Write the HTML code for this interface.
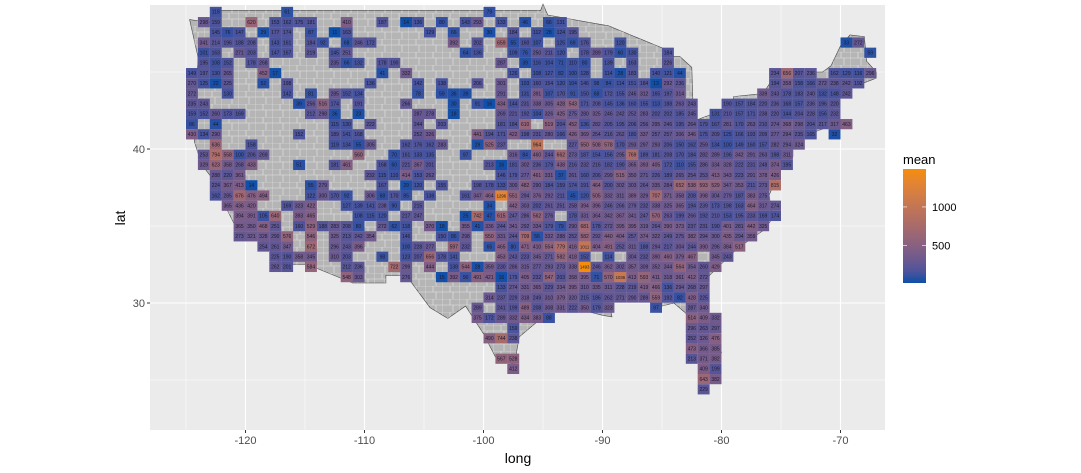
<!DOCTYPE html>
<html><head><meta charset="utf-8"><style>
html,body{margin:0;padding:0;background:#fff;}
svg{display:block;font-family:"Liberation Sans",sans-serif;}
</style></head><body>
<svg id="chart" width="1081" height="473" viewBox="0 0 1081 473" xmlns="http://www.w3.org/2000/svg">
<defs>
<pattern id="county" patternUnits="userSpaceOnUse" width="17" height="13">
<path d="M0 0 H17 M0 0 V13 M8 0 V6 M0 6 H8 M11 6 V13 M8 6 H17" stroke="#e6e6e6" stroke-width="0.6" fill="none"/>
</pattern>
</defs>
<rect x="150" y="5" width="735" height="425" fill="#ebebeb"/>
<g id="grid"></g>
<g id="map"></g>
<g id="cells"></g>
<g id="axes"></g>
<text x="518" y="463" font-size="14" text-anchor="middle" fill="#000">long</text>
<text transform="translate(125,218) rotate(-90)" font-size="14" text-anchor="middle" fill="#000">lat</text>
<g id="legend">
<text x="903" y="164" font-size="13" fill="#000">mean</text>
</g>
</svg>
<script>
const xTicks = [-120, -110, -100, -90, -80, -70];
const yTicks = [30, 40];
const legendTicks = [500, 1000];
const rowValues = [
"2:118|8:61|25:79",
"1:298 159|5:620|7:153 162 175 181|13:410|16:187|18:14 136|21:80|23:143 293|26:133|28:46|30:66 131",
"2:145 76 147|6:29 177 174|10:87|12:11 163|20:129|22:66|25:30|27:184|29:112 28 124 195",
"1:341 214 196 188 208|7:143 161|10:184 92|13:68 246 172|22:392|24:202|26:659 55 160 107|31:125 69 176|36:120|55:33 272",
"1:101 163|4:271 203|7:147 167|10:219|12:145 251|23:64 136|27:109 76 250 211 120|33:178 289 179 60 130|40:184|57:59",
"1:195 108 152|5:178 268|12:235 66 132|16:178 190|26:287|28:39 116 104 71 110 80|35:139|37:163|40:226",
"0:149 197 130 265|6:452 17|16:41|18:332|27:126|29:108 127 82 100 128|35:114 28 183|39:140 121 44|49:234 656 207 236|54:162 129 116 296",
"0:270 125 22 225|6:52|8:198|15:136|19:142|21:138|24:206|26:301|28:103 160 154 120 104 146 98 84 114 151 184 13 292 236|49:194 358 158 166 272 238 242 192",
"0:272|3:130|8:142|10:81|12:285 152 134|19:78|21:59 36 39|26:291|28:131 391 107 170 91 150 68 172 155 246 312 165 197 314|48:339 243 178 183 240 132 148 242",
"0:235 243|9:39 256 516 174|14:191|18:266|22:30|24:91 16 434 144 231 338 305 428 543 171 208 145 136 160 155 113 188 263 243|45:190 157 184 220 236 168 157 236 196 220",
"0:159 152 260 173 169|10:212 298 36|14:23|19:287 278|22:18|26:269 221 192 104 326 425 275 280 325 246 242 252 283 202 202 185 245|44:131 210 157 171 238 220 144 204 228 156 232",
"0:86|2:44|12:115 130|15:222|19:244|21:203|26:181 184 610 _ 519 204 452 136 282 205 195 206 256 295 246 195 264 179 167 281 170 263 210 274 368 298 204 217 317 463",
"0:430 134 290|9:152|12:189 141 168|19:252 326|24:441 194 171 422 198 231 280 166 426 369 254 216 262 180 337 257 257 306 346 175 209 125 166 193 209 277 294 235 165|54:32",
"2:636|5:158|12:119 134 55 305|18:162 176 162 283|24:29 525 237|29:964|32:227 550 508 578 170 293 297 293 206 150 162 259 134 100 149 160 157 282 294 324",
"1:253 794 558 100 206 269|14:560|17:70 161 133 135|23:97|27:316 84 460 244 662 273 187 154 156 295 769 189 181 208 170 184 282 289 196 342 291 263 198 311",
"1:329 623 358 268 433|9:51|12:181 461|16:168 60 221 367 201|25:213 16 181 302 236 179 438 216 232 216 182 190 365 393 405 172 110 155 286 334 328 222 231 248 374 195",
"2:288 220 361|15:232 115 110 414 153 262|26:146 179 277 461 331 37 261 160 206 299 515 350 271 226 189 265 254 253 413 343 223 291 378 426",
"2:224 367 413 14|10:55 279|16:167|18:29 120|21:155|24:198 178 133 300 482 290 184 159 174 191 464 200 302 303 264 335 284 652 538 593 529 347 353 211 273 815",
"2:162 285 676 476 494|10:122 300 170 92|15:306 68 170 85|20:138|23:161 347 464 1296 551 294 376 292 211 45 120 505 332 311 389 329 707 371 358 208 398 304 279 187 383 275",
"3:365 436 420|8:169 323 422|13:127 139 141 238 90|19:215|25:34|27:442 303 202 261 251 258 394 396 246 266 279 232 338 325 365 194 239 173 198 163 464 317 274",
"4:394 391 105 640|9:393 465|14:108 115 120|18:217 247|23:25 742 47 615 247 286 562 276 _ 178 331 364 342 367 341 247 570 263 199 266 192 210 153 195 233 169 174",
"4:365 350 468 251|9:160 529 188 283 208 80|16:272 62 118|20:370 18|23:355 41 336 244 341 292 334 179 79 290 681 178 272 395 395 319 264 390 373 237 231 190 401 281 442 325",
"4:273 321 328 290 576|10:546|12:325 213 242 354|18:146|21:150 86 298|25:550 331 244 709 56 332 288 252 582 292 440 404 257 374 322 249 275 382 294 300 435 294 359",
"6:254 261 347|10:672|12:296 243 396|18:100 228 277|22:597 232|25:65 465 80 471 410 554 779 416 1011 404 491 252 311 188 294 217 304 244 390 296 384 517",
"7:225 190 358 345|12:310 203|16:98|18:123 207 656 178 141|26:453 243 223 345 271 582 418 152 _ 114 _ 304 232 390 460 379 467 _ 345 243",
"7:262 201|10:584|13:212 236|17:722 299|20:444|22:138 544 28 359 230 286 315 277 293 273 338 1493 246 362 302 357 309 352 344 564 354 260 429",
"13:548 303|18:276|21:15 392 90 491 421 16 179 405 232 547 203 358 395 71 570 1036 413 593 411 318 361 412 272",
"26:133 274 331 365 229 334 395 310 335 311 228 219 419 466 136 294 268 297",
"25:314 237 229 318 249 310 379 320 215 186 262 271 290 289 559 192 82 428 225",
"24:289 _ 241 199 489 208 308 331 222 350 179 323|39:97|42:287 340",
"24:375 172 289 332 434 383 88|42:514 409 332",
"27:159|42:296 263 297",
"25:490 744 238|42:252 326 476",
"42:473 366 385",
"26:567 528|42:213 371 382",
"27:412|43:409 199",
"43:643 382",
"43:229"
];
const outlineLon = [-124.7,-123,-122.8,-95.2,-95,-94.6,-91,-89.5,-84.8,-84.4,-83.5,-82.5,-82.4,-83,-82.7,-79,-79,-76.5,-76,-75,-71.5,-70.8,-70,-69.2,-68,-67.8,-67,-67,-70,-70.7,-70,-71.5,-74,-74,-75,-75.5,-76,-75.7,-76.5,-78,-79,-81,-81.5,-81,-80,-80.4,-81.2,-81.8,-82.7,-82.8,-84,-85.5,-86.5,-88,-89.5,-89.2,-90,-91.5,-93.8,-95,-97,-97.4,-99,-100,-101.5,-103,-104.5,-106.5,-108.2,-108.2,-111,-114.8,-117.1,-118.5,-120.6,-121.9,-122.5,-123.7,-124.3,-124.2,-124];
const outlineLat = [48.4,48.2,49,49,49.4,48.7,48.2,48,46.5,46,46,45.3,43,42,41.7,42.8,43.4,43.6,44.2,45,45,45.4,46.7,47.4,47.3,45.7,45,44.6,43.7,42.7,41.7,41.3,40.6,39.5,38.8,37.9,37,35.5,34.7,33.9,33.3,31.8,30.5,29,26.8,25.2,25.2,26.5,28,29.2,30,29.7,30.4,30.4,30.2,29.1,29.2,29.5,29.7,29.1,27.8,26,26.5,28,29.8,29,29.7,31.8,31.8,31.3,31.3,32.5,32.5,34,34.6,36.6,37.8,39,40.5,42,46];

const NS='http://www.w3.org/2000/svg';
const X0=150, X1=885, Y0=5, Y1=430;
function xs(lon){return 245.5+(lon+120)*11.9;}
function ys(lat){return 149+(40-lat)*15.4;}
const lon0=-124.5, lat0=48.9, dLat=0.6623;
function mk(tag,attrs,parent){const e=document.createElementNS(NS,tag);for(const k in attrs)e.setAttribute(k,attrs[k]);parent.appendChild(e);return e;}

const cells=[];
rowValues.forEach((row,r)=>{row.split('|').forEach(seg=>{const [s,vals]=seg.split(':');let c=+s;vals.trim().split(/\s+/).forEach(v=>{if(v!=='_')cells.push({r:r,c:c,v:+v});c++;});});});
const vmin=Math.min(...cells.map(d=>d.v)), vmax=Math.max(...cells.map(d=>d.v));

function s2l(c){c/=255;return c<=0.04045?c/12.92:Math.pow((c+0.055)/1.055,2.4);}
function l2s(c){c=c<=0.0031308?12.92*c:1.055*Math.pow(c,1/2.4)-0.055;return Math.max(0,Math.min(255,Math.round(c*255)));}
function toLab(h){const r=s2l(parseInt(h.substr(1,2),16)),g=s2l(parseInt(h.substr(3,2),16)),b=s2l(parseInt(h.substr(5,2),16));
let x=(0.4124*r+0.3576*g+0.1805*b)/0.95047,y=(0.2126*r+0.7152*g+0.0722*b),z=(0.0193*r+0.1192*g+0.9505*b)/1.08883;
const f=t=>t>0.008856?Math.cbrt(t):7.787*t+16/116;x=f(x);y=f(y);z=f(z);return [116*y-16,500*(x-y),200*(y-z)];}
function fromLab(L,a,b){let y=(L+16)/116,x=a/500+y,z=y-b/200;const fi=t=>t*t*t>0.008856?t*t*t:(t-16/116)/7.787;
x=fi(x)*0.95047;y=fi(y);z=fi(z)*1.08883;
const r=3.2406*x-1.5372*y-0.4986*z,g=-0.9689*x+1.8758*y+0.0415*z,bb=0.0557*x-0.2040*y+1.0570*z;
return 'rgb('+l2s(r)+','+l2s(g)+','+l2s(bb)+')';}
const LOW=toLab('#0c4fa8'), HIGH=toLab('#f58d0a');
function col(v){const t=Math.max(0,Math.min(1,(v-vmin)/(vmax-vmin)));return fromLab(LOW[0]+(HIGH[0]-LOW[0])*t,LOW[1]+(HIGH[1]-LOW[1])*t,LOW[2]+(HIGH[2]-LOW[2])*t);}

const grid=document.getElementById('grid');
for(let lon=-125;lon<=-65;lon+=5){const x=xs(lon);if(x<X0||x>X1)continue;const major=lon%10===0;
const l=mk('line',{x1:x,x2:x,y1:Y0,y2:Y1,stroke:'#fff','stroke-width':major?1.1:0.5},grid);

}
for(let lat=20;lat<=50;lat+=5){const y=ys(lat);if(y<Y0||y>Y1)continue;const major=lat%10===0;
const l=mk('line',{x1:X0,x2:X1,y1:y,y2:y,stroke:'#fff','stroke-width':major?1.1:0.5},grid);

}

const map=document.getElementById('map');
const pts=outlineLon.map((lo,i)=>xs(lo).toFixed(1)+','+ys(outlineLat[i]).toFixed(1)).join(' ');
const poly=mk('polygon',{points:pts,fill:'#b5b5b5',stroke:'#444','stroke-width':0.6},map);


const poly2=mk('polygon',{points:pts,fill:'url(#county)',stroke:'none'},map);



const cg=document.getElementById('cells');
const cw=11.9, ch=dLat*15.4;
cells.forEach(d=>{const lon=lon0+d.c, lat=lat0-d.r*dLat;const cx=xs(lon), cy=ys(lat);
const g=mk('g',{},cg);


mk('rect',{x:(cx-cw/2).toFixed(2),y:(cy-ch/2).toFixed(2),width:cw.toFixed(2),height:ch.toFixed(2),fill:col(d.v)},g);
const t=mk('text',{x:cx.toFixed(2),y:(cy+1.8).toFixed(2),'font-size':d.v>=1000?4.3:5,'text-anchor':'middle',fill:'#1b1b2a'},g);
t.textContent=d.v;

});

const ax=document.getElementById('axes');
xTicks.forEach(v=>{const x=xs(v);
const tk=mk('line',{x1:x,x2:x,y1:Y1,y2:Y1+3,stroke:'#333','stroke-width':1},ax);


const t=mk('text',{x:x,y:Y1+14,'font-size':11,'text-anchor':'middle',fill:'#4d4d4d'},ax);t.textContent=v;

});
yTicks.forEach(v=>{const y=ys(v);
const tk=mk('line',{x1:X0-3,x2:X0,y1:y,y2:y,stroke:'#333','stroke-width':1},ax);


const t=mk('text',{x:X0-5,y:y+4,'font-size':11,'text-anchor':'end',fill:'#4d4d4d'},ax);t.textContent=v;

});

const lg=document.getElementById('legend');
const LB=283, LT=169, LX=903, LW=23;
function ly(v){return LB-(v-vmin)/(vmax-vmin)*(LB-LT);}
const defs=mk('defs',{},lg);
const grad=mk('linearGradient',{id:'lgrad',x1:0,y1:1,x2:0,y2:0},defs);
for(let i=0;i<=10;i++){mk('stop',{offset:i/10,'stop-color':col(vmin+(vmax-vmin)*i/10)},grad);}
const bar=mk('rect',{x:LX,y:LT,width:LW,height:LB-LT,fill:'url(#lgrad)'},lg);


legendTicks.forEach(v=>{const y=ly(v);
mk('line',{x1:LX,x2:LX+4,y1:y,y2:y,stroke:'#fff','stroke-width':0.8,opacity:0.8},lg);
mk('line',{x1:LX+LW-4,x2:LX+LW,y1:y,y2:y,stroke:'#fff','stroke-width':0.8,opacity:0.8},lg);
const t=mk('text',{x:LX+LW+6,y:y+4,'font-size':11,fill:'#000'},lg);t.textContent=v;

});
</script>
</body></html>
